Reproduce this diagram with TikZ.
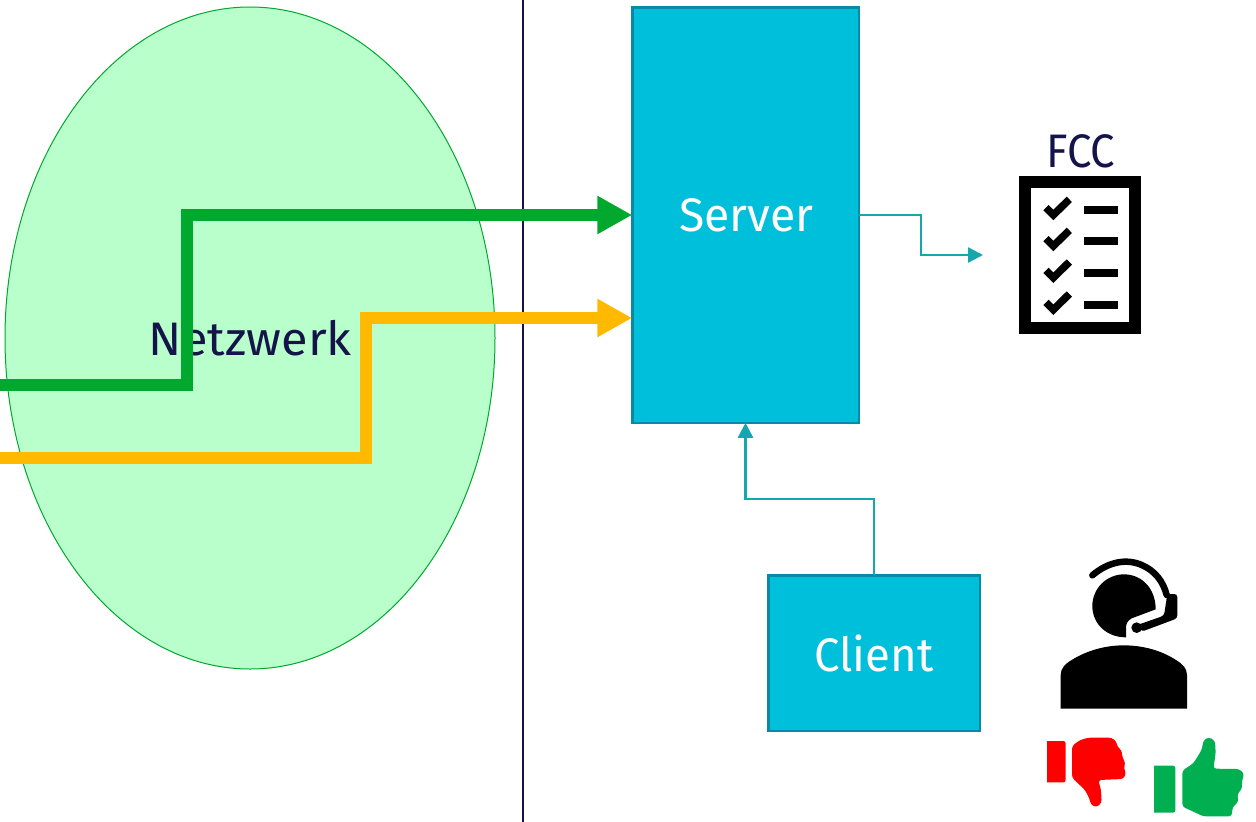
\documentclass[tikz,border=0pt]{standalone}
\usepackage{fontspec}
\setmainfont{Fira Sans}
\usetikzlibrary{arrows.meta,shapes.geometric,calc}
\definecolor{navy}{HTML}{14144A}
\definecolor{boxfill}{HTML}{00BFDA}
\definecolor{boxedge}{HTML}{078AA3}
\definecolor{teal}{HTML}{14A8AE}
\definecolor{netfill}{HTML}{B8FFCC}
\definecolor{netedge}{HTML}{00A82D}
\definecolor{gline}{HTML}{00A82D}
\definecolor{yline}{HTML}{FFB900}
\definecolor{thumbg}{HTML}{00B050}
\tikzset{
  box/.style={draw=boxedge,line width=2.5pt,fill=boxfill,text=white,inner sep=0pt,outer sep=0pt,font=\fontsize{47}{47}\selectfont},
  flow/.style={line width=12pt,-{Triangle[width=36pt,length=35pt]}},
  link/.style={draw=teal,line width=2.5pt,-{Triangle[width=15pt,length=15pt]}},
}
\begin{document}
\begin{tikzpicture}[x=1pt,y=-1pt]
\useasboundingbox (0,0) rectangle (1256,822);
\fill[white] (0,0) rectangle (1256,822);
% network
\node[ellipse,draw=netedge,line width=1pt,fill=netfill,minimum width=490pt,minimum height=662pt,inner sep=0pt,text=navy,font=\fontsize{47}{47}\selectfont] (net) at (250,338) {\scalebox{1.035}[1]{Netzwerk}};
% divider
\coordinate (divT) at (523,0);
\coordinate (divB) at (523,822);
\draw[navy,line width=2pt] (divT) -- (divB);
% boxes
\node[box,minimum width=226.5pt,minimum height=415.5pt] (server) at (745.5,215) {\hspace{2pt}\scalebox{0.985}[1]{Server}};
\node[box,minimum width=211.5pt,minimum height=155.5pt] (client) at (874,653) {\scalebox{0.97}[1]{Client}};
\node[text=navy,inner sep=0pt,font=\fontsize{47}{47}\selectfont] (fcc) at (1081,151) {\scalebox{0.93}[1]{FCC}};
% flows
\coordinate (g0) at (0,385);
\coordinate (g1) at (187,385);
\coordinate (g2) at (187,215);
\coordinate (y0) at (0,458);
\coordinate (y1) at (366,458);
\coordinate (y2) at (366,318);
\draw[flow,draw=gline,color=gline] (g0) -- (g1) -- (g2) -- (g2 -| server.west);
\draw[flow,draw=yline,color=yline] (y0) -- (y1) -- (y2) -- (y2 -| server.west);
% links
\coordinate (fccin) at (983,255);
\draw[link] (server.east) -- (921,215) -- (921,255) -- (fccin);
\draw[link] (client.north) -- (874,499) -- (745.5,499) -- (server.south);
% checklist icon
\begin{scope}[shift={(1000,120)},x=0.33333pt,y=-0.33333pt]
\draw[line width=12pt,black] (74,186) rectangle (405,625);
\foreach \yy in {270,363,458,554}{
  \fill[black] (252,\yy-12) rectangle (354,\yy+12);
  \draw[black,line width=7.5pt] (138,\yy-7) -- (160,\yy+15) -- (208,\yy-32);
}
\end{scope}
% agent icon
\begin{scope}[shift={(1030,550)},x=0.33333pt,y=-0.33333pt]
\fill[black] (288,262) .. controls (230,262) and (187,222) .. (187,168)
  .. controls (187,115) and (230,73) .. (282,73)
  .. controls (335,73) and (377,115) .. (377,178)
  -- (305,205) .. controls (292,212) and (288,222) .. (288,235) -- cycle;
\draw[black,line width=6.5pt,line cap=round] (187,76) .. controls (235,35) and (290,25) .. (335,45)
  .. controls (375,62) and (400,95) .. (410,135);
\fill[black,rounded corners=3pt] (412,132) -- (442,132) -- (442,205) -- (335,245) -- (322,225) -- (402,197) -- cycle;
\fill[black] (320,233) circle (16);
\fill[black] (92,476) -- (92,375) .. controls (92,355) and (105,342) .. (125,330)
  .. controls (170,302) and (225,286) .. (281,286)
  .. controls (340,286) and (395,302) .. (438,330)
  .. controls (458,342) and (471,355) .. (471,375) -- (471,476) -- cycle;
% thumb down
\fill[red] (51,573) [rounded corners=2.3pt] -- (107,573) -- (107,697) [sharp corners] -- (51,697) -- cycle;
\fill[red,rounded corners=3pt] (126,588) -- (150,570) -- (175,563) -- (245,563) -- (260,575) -- (262,592) -- (275,600) -- (277,622) -- (287,640) -- (280,655) -- (289,668) -- (280,687) -- (205,690) -- (213,720) -- (215,758) -- (200,772) -- (183,765) -- (178,745) -- (165,720) -- (126,683) -- cycle;
% thumb up
\fill[thumbg] (372,647) [rounded corners=2.3pt] -- (436,647) -- (436,788) [sharp corners] -- (372,788) -- cycle;
\fill[thumbg,rounded corners=3pt] (457,662) -- (490,640) -- (515,600) -- (520,572) -- (535,561) -- (555,572) -- (557,610) -- (550,656) -- (628,657) -- (643,672) -- (635,695) -- (637,715) -- (622,732) -- (625,757) -- (608,770) -- (605,799) -- (520,799) -- (490,785) -- (457,770) -- cycle;
\end{scope}
\end{tikzpicture}
\end{document}
